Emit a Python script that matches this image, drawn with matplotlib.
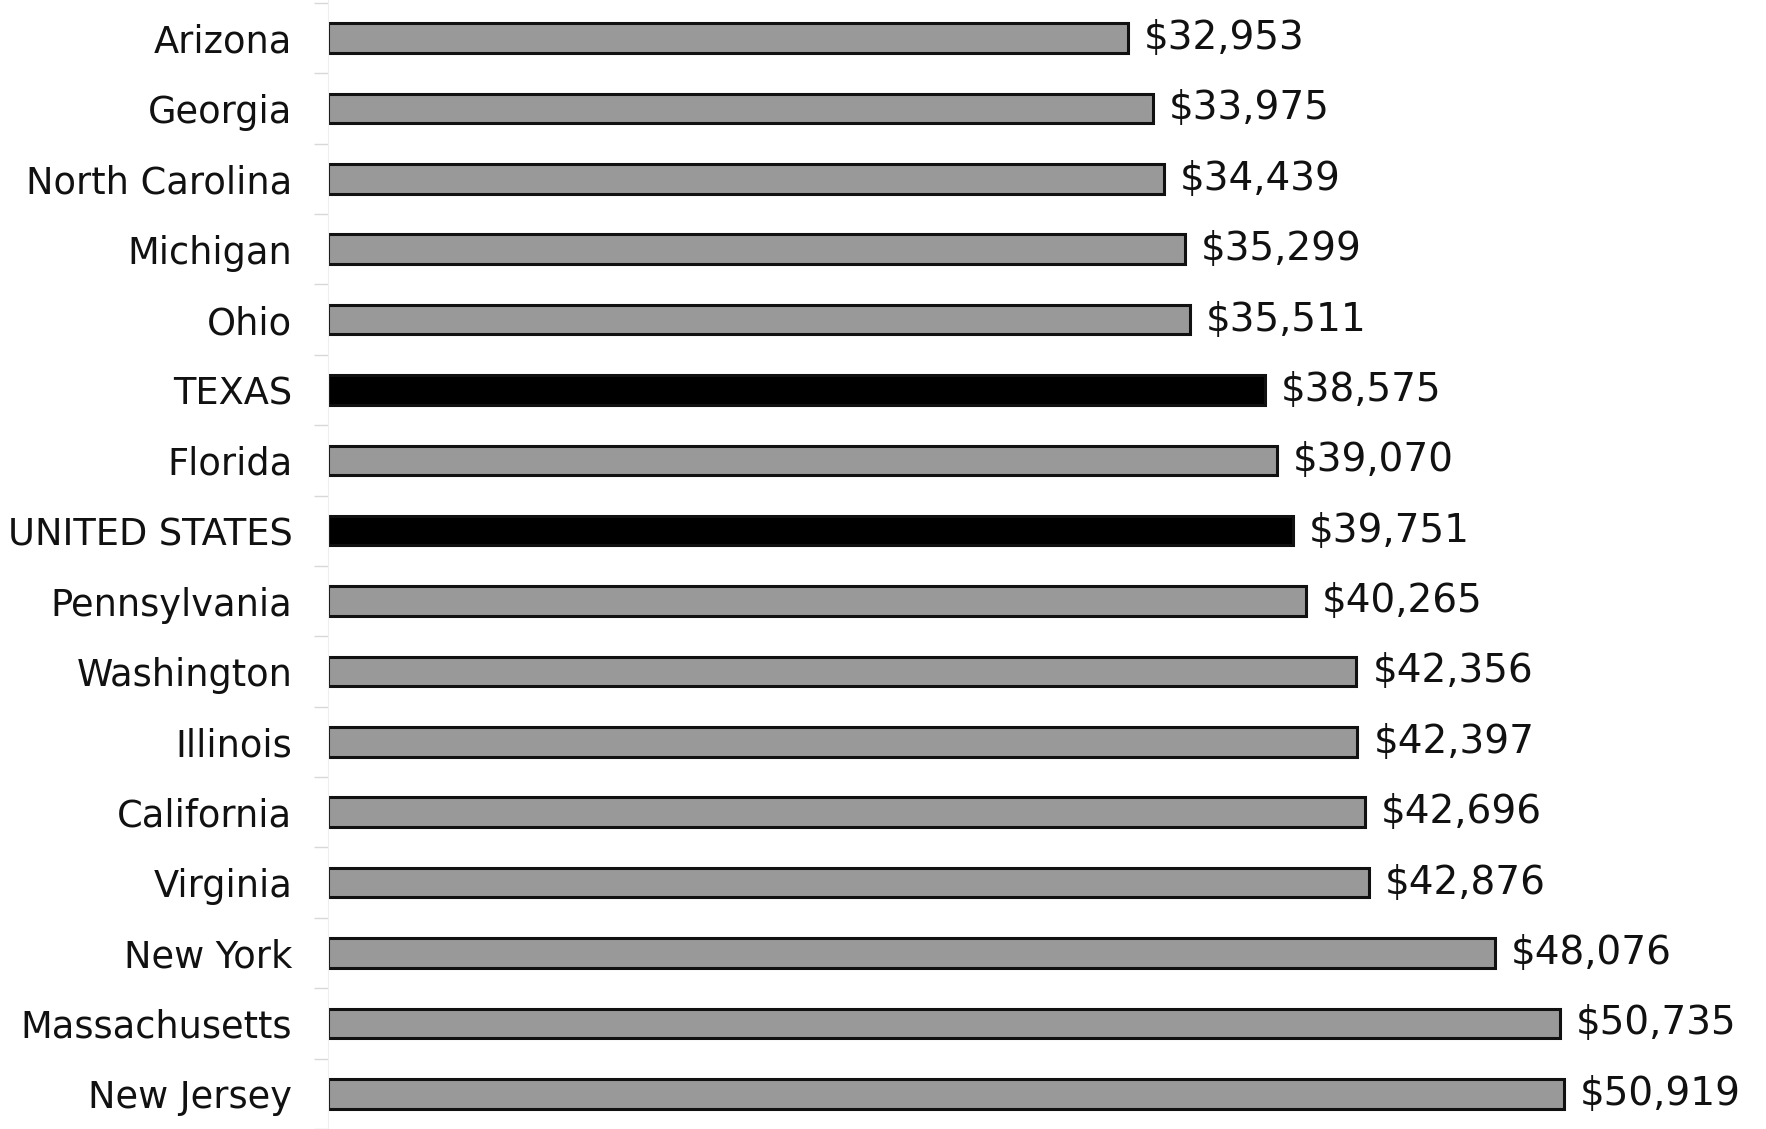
import numpy as np
import matplotlib.pyplot as plt

# Dane: mediana dochodu (USD) wg stanu
states = ["Arizona", "Georgia", "North Carolina", "Michigan", "Ohio", "TEXAS",
          "Florida", "UNITED STATES", "Pennsylvania", "Washington", "Illinois",
          "California", "Virginia", "New York", "Massachusetts", "New Jersey"]
values = [32953, 33975, 34439, 35299, 35511, 38575, 39070, 39751, 40265,
          42356, 42397, 42696, 42876, 48076, 50735, 50919]
highlight = ["TEXAS", "UNITED STATES"]

plt.rcParams['font.family'] = ['DejaVu Sans']

fig = plt.figure(figsize=(17.66, 11.29), dpi=100)
ax = fig.add_axes([0.186, 0.0, 0.75, 1.0])

y = np.arange(len(states))
colors = ["#000000" if s in highlight else "#999999" for s in states]
ax.barh(y, values, height=0.42, color=colors, edgecolor="#111111", linewidth=2.2)

for yi, v in zip(y, values):
    ax.text(v + 650, yi, f"${v:,}", va="center", ha="left", fontsize=28,
            color="#111111", clip_on=False)

ax.set_xlim(0, 54572)
ax.set_ylim(15.36, -0.54)
ax.set_yticks(y)
ax.set_yticklabels(states, fontsize=26.5, color="#111111")
ax.set_yticks(np.arange(-0.5, len(states), 1), minor=True)
ax.tick_params(axis="y", which="major", length=0, pad=26)
ax.tick_params(axis="y", which="minor", length=10, width=1, color="#d8d8d8")
ax.set_xticks([])
for side in ["top", "right", "bottom"]:
    ax.spines[side].set_visible(False)
ax.spines["left"].set_color("#eeeeee")

fig.savefig("out.png", dpi=100)
plt.close(fig)
